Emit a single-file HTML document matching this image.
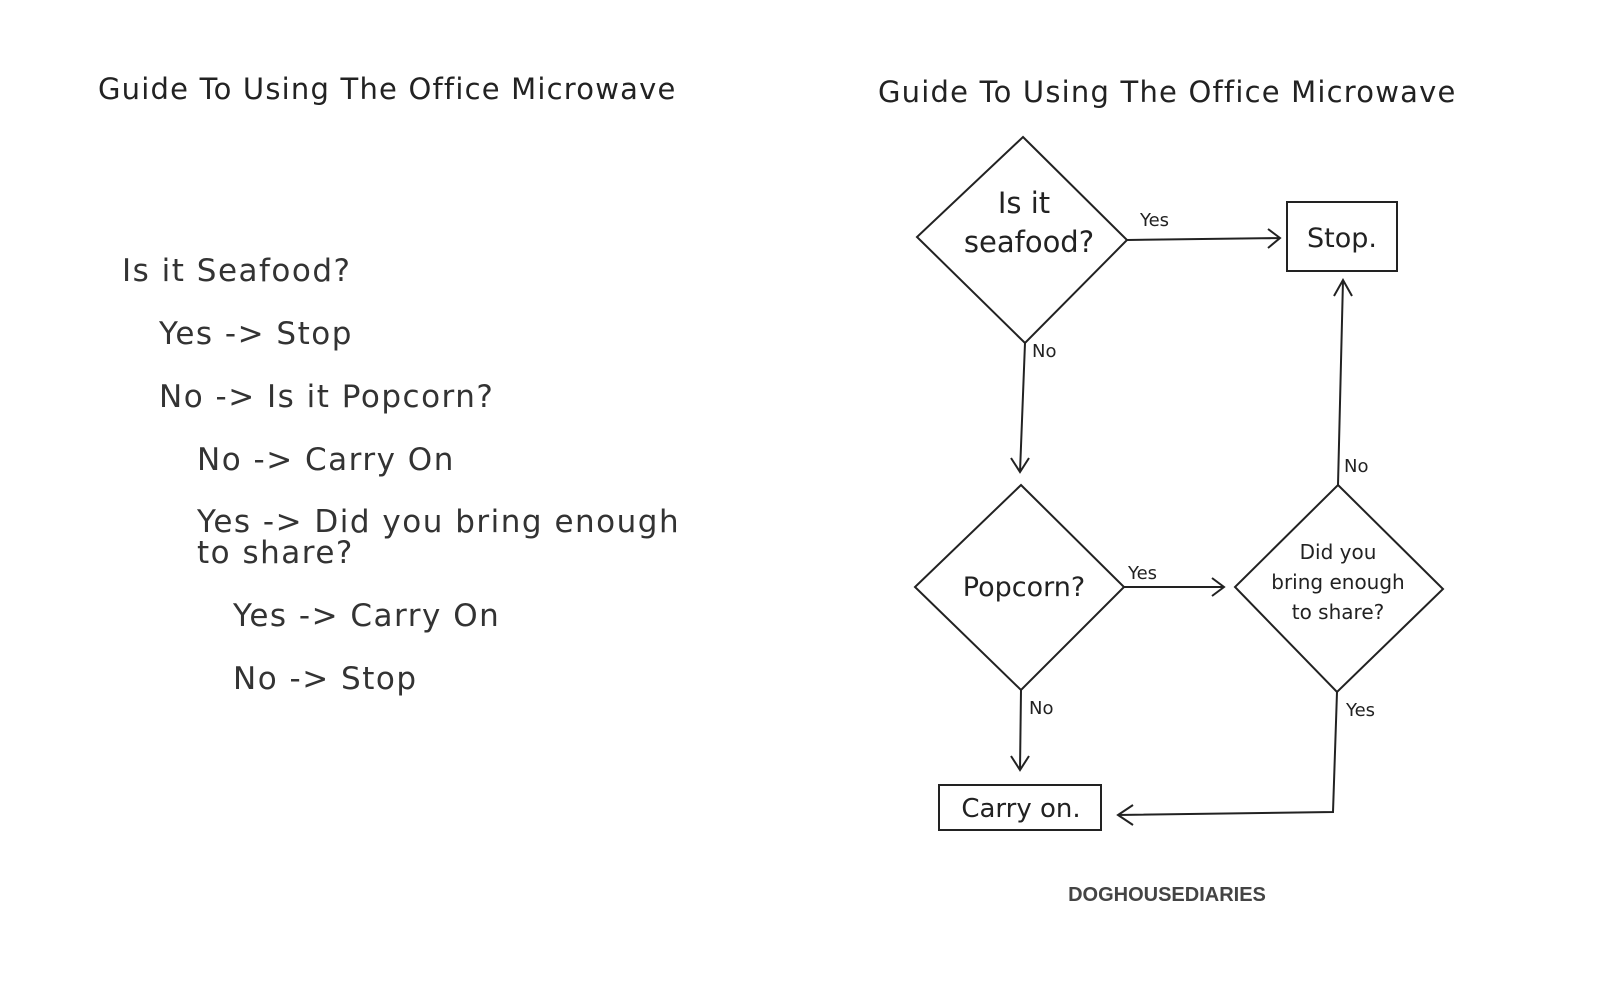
<!DOCTYPE html>
<html><head><style>
body{margin:0;background:#fff;width:1600px;height:993px;overflow:hidden;position:relative;font-family:"DejaVu Sans",sans-serif;color:#333}
.t{position:absolute;font-size:31px;letter-spacing:1.5px;white-space:nowrap;line-height:1}
</style></head><body>
<div class="t" style="left:98px;top:75px;font-size:29px;letter-spacing:1.2px;color:#222">Guide To Using The Office Microwave</div>
<div class="t" style="left:122px;top:256px">Is it Seafood?</div>
<div class="t" style="left:159px;top:319px">Yes -&gt; Stop</div>
<div class="t" style="left:159px;top:382px">No -&gt; Is it Popcorn?</div>
<div class="t" style="left:197px;top:445px">No -&gt; Carry On</div>
<div class="t" style="left:197px;top:507px">Yes -&gt; Did you bring enough</div>
<div class="t" style="left:197px;top:538px">to share?</div>
<div class="t" style="left:233px;top:601px">Yes -&gt; Carry On</div>
<div class="t" style="left:233px;top:664px">No -&gt; Stop</div>
<svg width="1600" height="993" style="position:absolute;left:0;top:0" font-family="DejaVu Sans, sans-serif" fill="#222">
<text x="878" y="102" font-size="29" letter-spacing="1.2">Guide To Using The Office Microwave</text>
<g fill="none" stroke="#222" stroke-width="2">
<polygon points="1023,137 1127,240 1025,343 917,237"/>
<rect x="1287" y="202" width="110" height="69"/>
<polygon points="1021,485 1124,587 1021,690 915,587"/>
<polygon points="1338,485 1443,589 1337,692 1235,587"/>
<rect x="939" y="785" width="162" height="45"/>
<path d="M1127,240 L1280,238 M1268,229 L1280,238 L1268,248"/>
<path d="M1025,343 L1020,472 M1011,458 L1020,472 L1029,458"/>
<path d="M1124,587 L1224,587 M1212,578 L1224,587 L1212,596"/>
<path d="M1021,690 L1020,770 M1011,756 L1020,770 L1029,756"/>
<path d="M1337,692 L1333,812 L1118,815 M1133,805 L1118,815 L1133,825"/>
<path d="M1338,485 L1343,280 M1334,296 L1343,280 L1352,296"/>
</g>
<g text-anchor="middle">
<text x="1024" y="213" font-size="29">Is it</text>
<text x="1029" y="252" font-size="29">seafood?</text>
<text x="1342" y="247" font-size="27">Stop.</text>
<text x="1024" y="596" font-size="27">Popcorn?</text>
<text x="1338" y="559" font-size="20">Did you</text>
<text x="1338" y="589" font-size="20">bring enough</text>
<text x="1338" y="619" font-size="20">to share?</text>
<text x="1021" y="817" font-size="26">Carry on.</text>
</g>
<g font-size="18">
<text x="1140" y="226">Yes</text>
<text x="1032" y="357">No</text>
<text x="1128" y="579">Yes</text>
<text x="1344" y="472">No</text>
<text x="1029" y="714">No</text>
<text x="1346" y="716">Yes</text>
</g>
<text x="1167" y="901" font-size="20" font-weight="bold" text-anchor="middle" fill="#444" font-family="Liberation Sans, sans-serif">DOGHOUSEDIARIES</text>
</svg>
</body></html>
